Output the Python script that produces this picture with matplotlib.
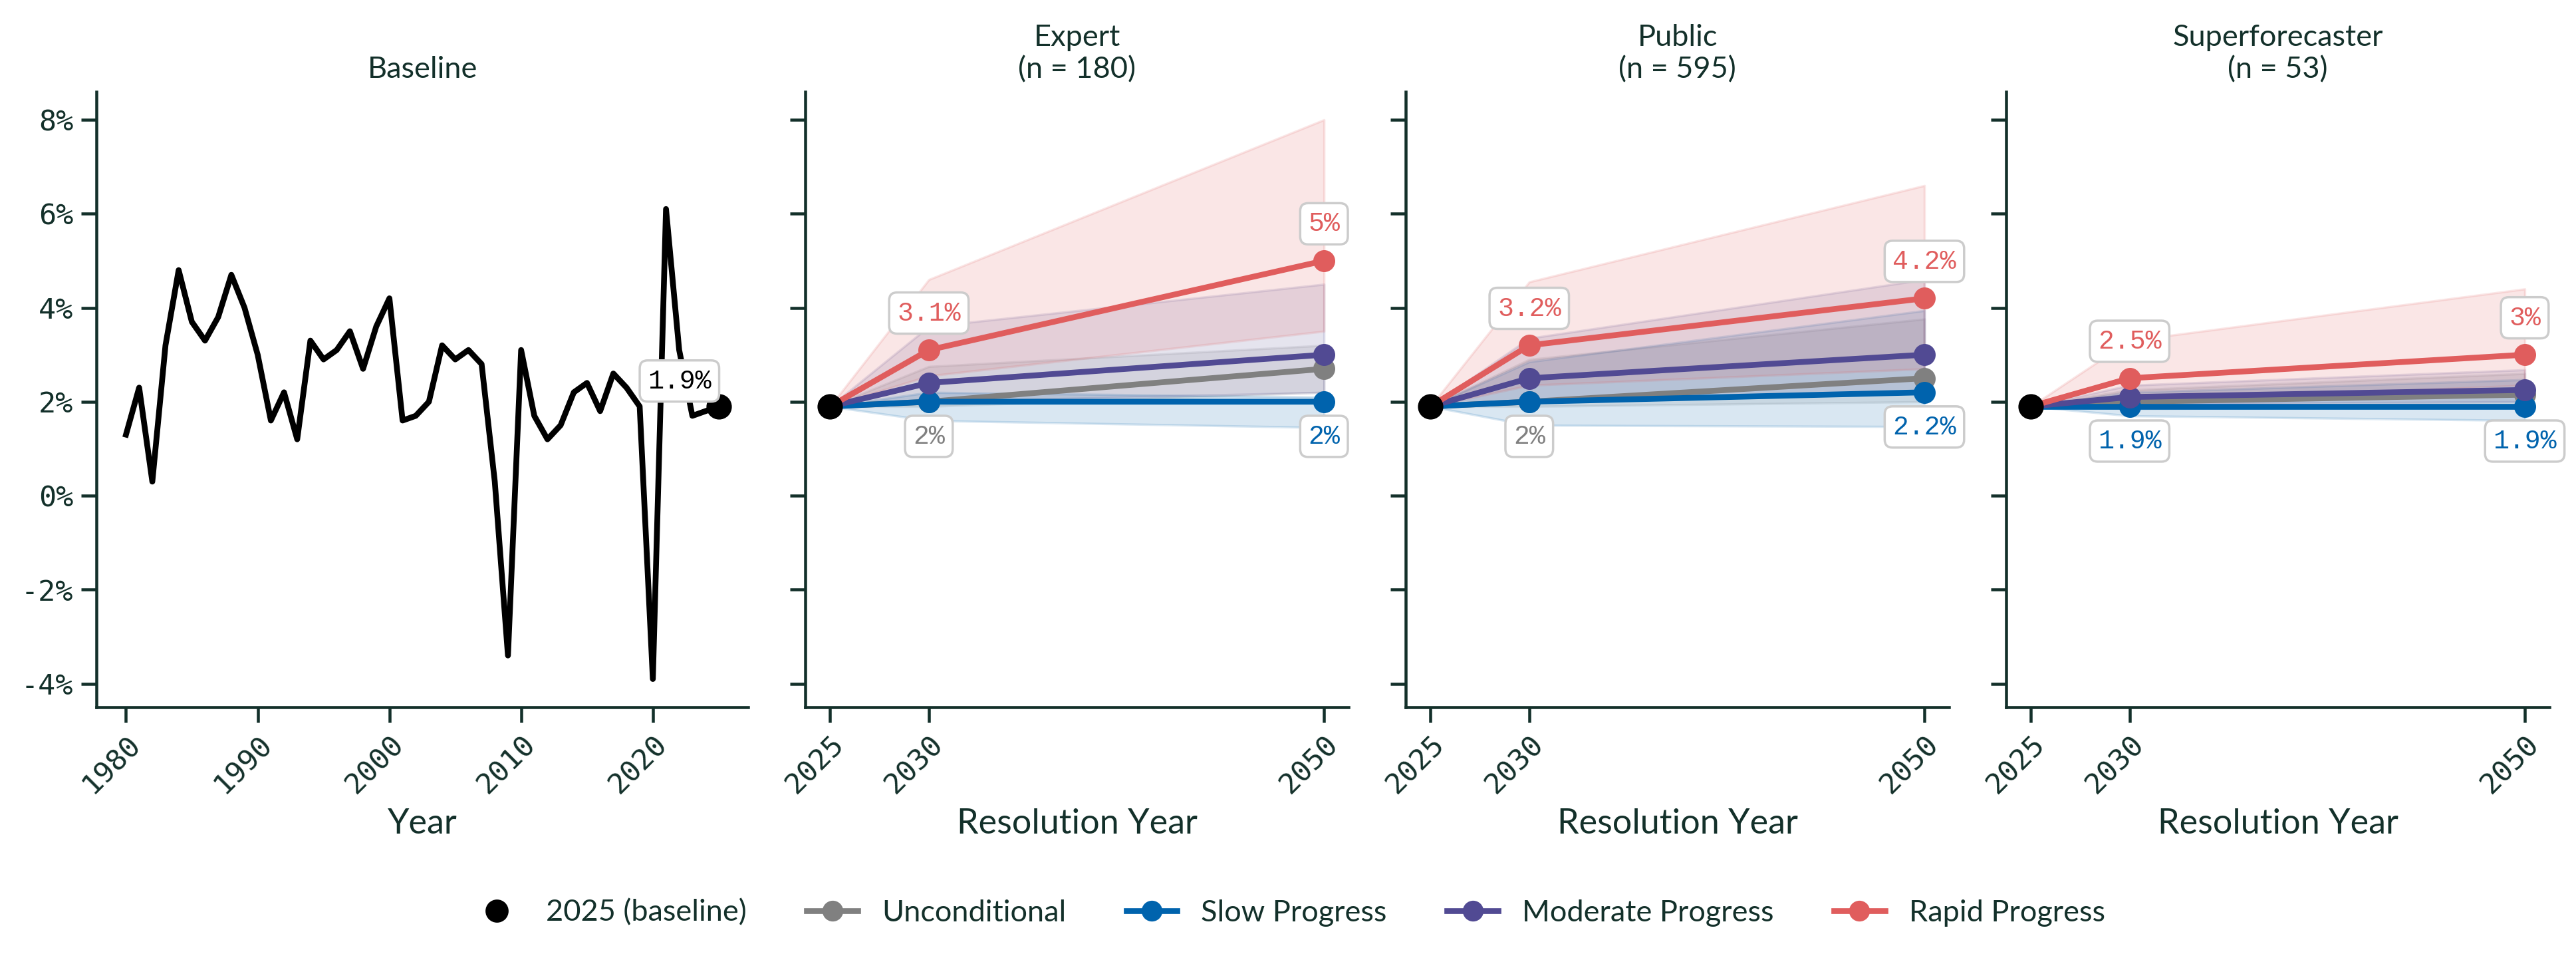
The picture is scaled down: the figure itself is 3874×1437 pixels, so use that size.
import numpy as np
import matplotlib.pyplot as plt
from matplotlib.lines import Line2D
from matplotlib.ticker import FuncFormatter

# 字体和颜色
INK = "#13302a"
plt.rcParams["font.family"] = ["Lato", "DejaVu Sans"]
plt.rcParams["text.color"] = INK
plt.rcParams["axes.labelcolor"] = INK
plt.rcParams["axes.edgecolor"] = INK
plt.rcParams["xtick.color"] = INK
plt.rcParams["ytick.color"] = INK

# 历史增长率 1980-2025
base_years = list(range(1980, 2026))
base_growth = [1.3, 2.3, 0.3, 3.2, 4.8, 3.7, 3.3, 3.8, 4.7, 4.0,
               3.0, 1.6, 2.2, 1.2, 3.3, 2.9, 3.1, 3.5, 2.7, 3.6,
               4.2, 1.6, 1.7, 2.0, 3.2, 2.9, 3.1, 2.8, 0.3, -3.4,
               3.1, 1.7, 1.2, 1.5, 2.2, 2.4, 1.8, 2.6, 2.3, 1.9,
               -3.9, 6.1, 3.1, 1.7, 1.8, 1.9]
base_2025 = 1.9

# 预测
fc_years = [2025, 2030, 2050]
scenarios = ["Unconditional", "Slow Progress", "Moderate Progress", "Rapid Progress"]
colors = ["#808080", "#0063ad", "#514a93", "#e05d5d"]

groups = ["Expert", "Public", "Superforecaster"]
group_n = [180, 595, 53]

# 每行一个情景: [2030, 2050]
expert_mid = [[2.0, 2.7], [2.0, 2.0], [2.4, 3.0], [3.1, 5.0]]
expert_lo = [[1.9, 2.2], [1.6, 1.45], [2.0, 2.2], [2.55, 3.5]]
expert_hi = [[2.75, 3.2], [2.2, 2.1], [3.6, 4.5], [4.6, 8.0]]

public_mid = [[2.0, 2.5], [2.0, 2.2], [2.5, 3.0], [3.2, 4.2]]
public_lo = [[1.9, 2.0], [1.5, 1.47], [2.0, 2.2], [2.35, 2.7]]
public_hi = [[2.9, 3.76], [2.85, 3.94], [3.35, 4.6], [4.55, 6.6]]

super_mid = [[2.0, 2.15], [1.9, 1.9], [2.1, 2.25], [2.5, 3.0]]
super_lo = [[1.85, 1.9], [1.7, 1.6], [1.95, 2.0], [2.0, 2.35]]
super_hi = [[2.25, 2.6], [2.2, 2.47], [2.35, 2.68], [3.3, 4.4]]

mids = [expert_mid, public_mid, super_mid]
los = [expert_lo, public_lo, super_lo]
his = [expert_hi, public_hi, super_hi]

MONO = ["Liberation Mono", "DejaVu Sans Mono"]
TICKFONT = ["DejaVu Sans Mono"]


def fmt(v):
    return f"{round(v, 1):g}%"


def box_label(ax, x, y, text, color, dy):
    ax.annotate(text, (x, y), xytext=(0, dy), textcoords="offset points",
                ha="center", va="center", fontsize=11.5, family=MONO, color=color,
                bbox=dict(boxstyle="round,pad=0.3", fc="white", ec="#cccccc", lw=1),
                zorder=10)


fig, axes = plt.subplots(1, 4, figsize=(15.496, 5.748), dpi=250, sharey=True,
                         gridspec_kw={"width_ratios": [1.2, 1, 1, 1]})
fig.subplots_adjust(left=0.0374, right=0.9897, top=0.904, bottom=0.2605, wspace=0.1)

# 基线面板
ax = axes[0]
ax.plot(base_years, base_growth, color="black", lw=2.5, zorder=3)
ax.plot([2025], [base_2025], "o", color="black", ms=10, zorder=4)
ax.annotate(fmt(base_2025), (2025, base_2025), xytext=(-17, 11), textcoords="offset points",
            ha="center", va="center", fontsize=11.5, family=MONO, color="black",
            bbox=dict(boxstyle="round,pad=0.3", fc="white", ec="#cccccc", lw=1), zorder=10)
ax.set_title("Baseline", fontsize=13)
ax.set_xlabel("Year", fontsize=15)
ax.set_xticks([1980, 1990, 2000, 2010, 2020])

# 预测面板
for i, ax in enumerate(axes[1:]):
    mid = np.array(mids[i])
    lo = np.array(los[i])
    hi = np.array(his[i])
    for k in range(len(scenarios)):
        ax.fill_between(fc_years, [base_2025] + list(lo[k]), [base_2025] + list(hi[k]),
                        color=colors[k], alpha=0.15, lw=1, zorder=1)
    for k in range(len(scenarios)):
        ax.plot(fc_years, [base_2025] + list(mid[k]), "-o", color=colors[k],
                lw=2.5, ms=8.5, zorder=3 + k)
    ax.plot([2025], [base_2025], "o", color="black", ms=10, zorder=8)

    # 标注每年最高和最低的情景
    for j, yr in enumerate(fc_years[1:]):
        top = int(np.argmax(mid[:, j]))
        bot = int(np.argmin(mid[:, j]))
        box_label(ax, yr, mid[top, j], fmt(mid[top, j]), colors[top], 16)
        box_label(ax, yr, mid[bot, j], fmt(mid[bot, j]), colors[bot], -15)

    ax.set_title(f"{groups[i]}\n(n = {group_n[i]})", fontsize=13)
    ax.set_xlabel("Resolution Year", fontsize=15)
    ax.set_xticks(fc_years)

for ax in axes:
    ax.spines["top"].set_visible(False)
    ax.spines["right"].set_visible(False)
    ax.spines["left"].set_linewidth(1.3)
    ax.spines["bottom"].set_linewidth(1.3)
    ax.tick_params(length=6.5, width=1.3, labelsize=12.5)
    for lab in ax.get_xticklabels() + ax.get_yticklabels():
        lab.set_family(TICKFONT)
    plt.setp(ax.get_xticklabels(), rotation=45, ha="right", rotation_mode="anchor")

axes[0].set_yticks([-4, -2, 0, 2, 4, 6, 8])
axes[0].yaxis.set_major_formatter(FuncFormatter(lambda v, p: f"{v:.0f}%"))

# 图例
handles = [Line2D([], [], ls="none", marker="o", color="black", ms=9, label="2025 (baseline)")]
for k in range(len(scenarios)):
    handles.append(Line2D([], [], color=colors[k], lw=2.5, marker="o", ms=8, label=scenarios[k]))
fig.legend(handles=handles, loc="center", bbox_to_anchor=(0.5, 0.045), ncol=5,
           frameon=False, fontsize=13, columnspacing=2.0, handlelength=1.7)

plt.savefig("out.png", dpi=250)
